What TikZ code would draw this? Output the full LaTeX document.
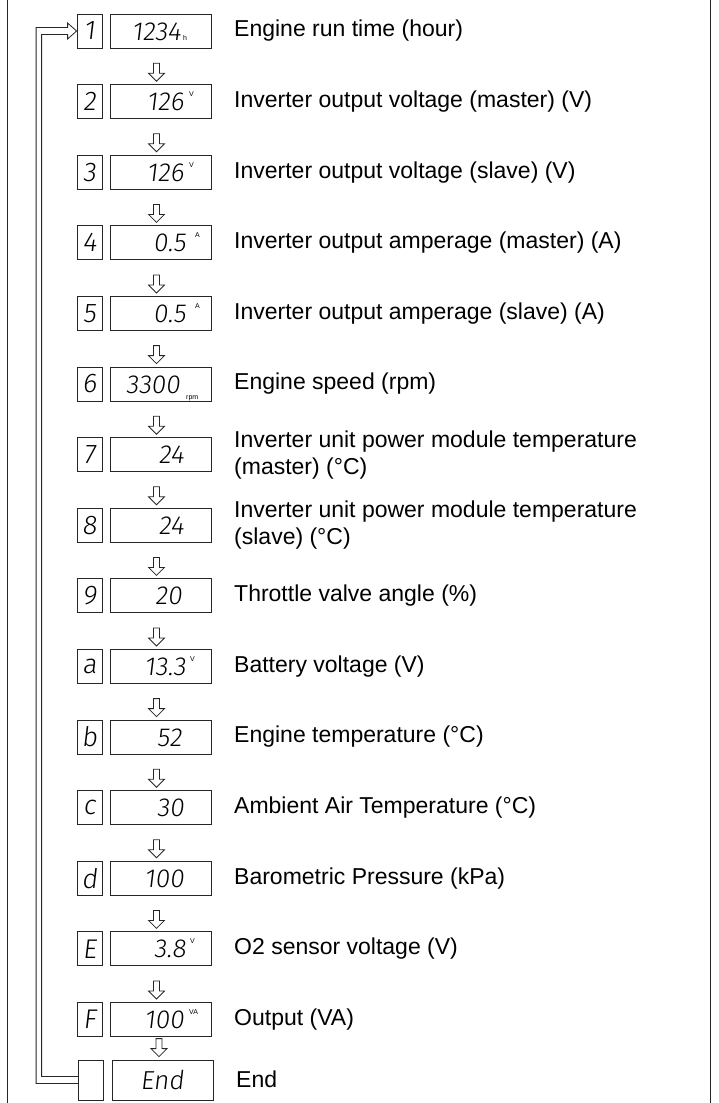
\documentclass[tikz,border=0pt]{standalone}
\usepackage{fontspec}
\setmainfont{Liberation Sans}
\newfontfamily\segfont{Fira Sans Light}[FakeSlant=0.12]
\usetikzlibrary{calc}
\begin{document}
\begin{tikzpicture}[x=1pt,y=-1pt,
  ln/.style={line width=0.8pt, draw=black!85},
  sbox/.style={ln, minimum width=25pt, minimum height=34pt, inner sep=0pt, font=\segfont\fontsize{27}{27}\selectfont},
  lbox/.style={ln, minimum width=101pt, minimum height=34pt, inner sep=0pt},
  lbl/.style={anchor=west, font=\fontsize{23}{27}\selectfont, align=left, inner sep=0pt},
  digits/.style={anchor=base east, font=\segfont\fontsize{26}{26}\selectfont, inner sep=0pt},
  unit/.style={anchor=base west, font=\fontsize{7}{7}\selectfont, inner sep=0pt},
]
\useasboundingbox (0,0) rectangle (718,1103);
\draw[ln] (7,0) -- (7,1103);
\draw[ln] (710,0) -- (710,1103);

\foreach \i/\s/\d/\r/\t [evaluate=\i as \y using 31+(\i-1)*70.6] in {
  1/1/1234/181/{Engine run time (hour)},
  2/2/126/184/{Inverter output voltage (master) (V)},
  3/3/126/184/{Inverter output voltage (slave) (V)},
  4/4/0.5/186/{Inverter output amperage (master) (A)},
  5/5/0.5/186/{Inverter output amperage (slave) (A)},
  6/6/3300/180/{Engine speed (rpm)},
  7/7/24/184/{Inverter unit power module temperature\\(master) (°C)},
  8/8/24/184/{Inverter unit power module temperature\\(slave) (°C)},
  9/9/20/182/{Throttle valve angle (\%)},
  10/a/13.3/186/{Battery voltage (V)},
  11/b/52/182/{Engine temperature (°C)},
  12/c/30/184/{Ambient Air Temperature (°C)},
  13/d/100/184/{Barometric Pressure (kPa)},
  14/E/3.8/186/{O2 sensor voltage (V)},
  15/F/100/184/{Output (VA)}} {
  \node[sbox] (s\i) at (89.5,\y) {\s};
  \node[lbox] (b\i) at (160.5,\y) {};
  \node[digits] (d\i) at (\r,\y+9) {\d};
  \node[lbl] (t\i) at (234,\y) {\t};
}
% End row
\node[sbox, minimum height=40pt] (s16) at (91,1080) {};
\node[lbox, minimum height=40pt] (b16) at (163,1080) {};
\node[digits] (d16) at (184,1089) {End};
\node[lbl] (t16) at (236,1079) {End};

% units
\node[unit] (u1) at ($(d1.base east)+(2,0)$) {h};
\node[unit] (u2) at ($(d2.base east)+(5,-14)$) {V};
\node[unit] (u3) at ($(d3.base east)+(5,-14)$) {V};
\node[unit] (u4) at ($(d4.base east)+(9,-14)$) {A};
\node[unit] (u5) at ($(d5.base east)+(9,-14)$) {A};
\node[unit] (u6) at ($(d6.base east)+(6,6)$) {rpm};
\node[unit] (u10) at ($(d10.base east)+(4,-14)$) {V};
\node[unit] (u14) at ($(d14.base east)+(4,-14)$) {V};
\node[unit] (u15) at ($(d15.base east)+(5,-14)$) {VA};

% down arrows
\foreach \i [evaluate=\i as \j using int(\i+1)] in {1,...,15} {
  \draw[ln] ($(b\j.north)+(-4,-3)$) -- ++(-8,-8) -- ++(5,0) -- ++(0,-10)
    -- ++(6,0) -- ++(0,10) -- ++(5,0) -- cycle;
}

% return arrow (hollow)
\draw[ln] ($(s16.west)+(0,-3.5)$) -| ($(s1.west)+(-35,3.5)$)
  -- ($(s1.west)+(-9,3.5)$) -- ++(0,4.5) -- (s1.west)
  -- ($(s1.west)+(-9,-8)$) -- ++(0,4.5)
  -| ($(s16.west)+(-42,3.5)$) -- ($(s16.west)+(0,3.5)$);
\end{tikzpicture}
\end{document}
